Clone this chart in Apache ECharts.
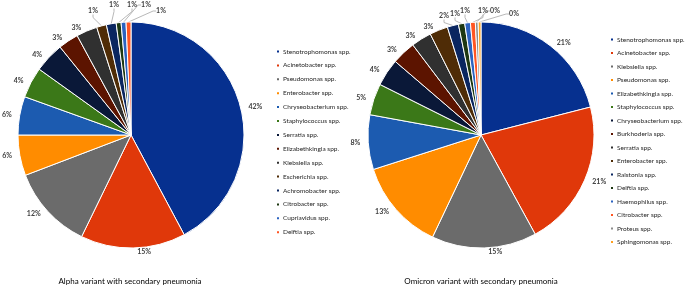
<!DOCTYPE html>
<html><head><meta charset="utf-8">
<script src="https://cdn.jsdelivr.net/npm/echarts@6/dist/echarts.min.js"></script>
<style>html,body{margin:0;padding:0;background:#fff}#c{width:687px;height:289px}</style>
</head><body><div id="c"></div>
<script>
const alphaNames = ['Stenotrophomonas spp.','Acinetobacter spp.','Pseudomonas spp.','Enterobacter spp.','Chryseobacterium spp.','Staphylococcus spp.','Serratia spp.','Elizabethkingia spp.','Klebsiella spp.','Escherichia spp.','Achromobacter spp.','Citrobacter spp.','Cupriavidus spp.','Delftia spp.'];
const alphaValues = [42.2, 15.0, 12.0, 5.8, 5.5, 4.4, 4.3, 2.9, 3.0, 1.4, 1.4, 0.7, 0.7, 0.7];
const omicronNames = ['Stenotrophomonas spp.','Acinetobacter spp.','Klebsiella spp.','Pseudomonas spp.','Elizabethkingia spp.','Staphylococcus spp.','Chryseobacterium spp.','Burkhoderia spp.','Serratia spp.','Enterobacter spp.','Ralstonia spp.','Delftia spp.','Haemophilus spp.','Citrobacter spp.','Proteus spp.','Sphingomonas spp.'];
const omicronValues = [21.0, 21.0, 15.0, 13.0, 7.8, 4.5, 3.9, 3.4, 2.9, 2.6, 1.6, 0.9, 0.8, 0.7, 0.4, 0.4];
const palette = ['#06308F','#E0380A','#6B6B6B','#FF8C00','#1C5BB0','#3B7818','#0A1838','#5C1400','#303030','#4F2C06','#0A2660','#1E3812','#2C63C0','#FF5522','#8C8C8C','#FFA020'];
const titles = ['Alpha variant with secondary pneumonia','Omicron variant with secondary pneumonia'];

const FONT = 'Lato';
const CY = 135, R = 113;
const centers = [131, 481];
// label spread for the thin slices at the top (x offset from pie centre, y)
const tailSpread = [
  {first:9, xs:[-38,-17,1,15,30], ys:[11,5,5,5,11]},
  {first:10, xs:[-37,-26,-16,2,14,33], ys:[16,14,11,11,11,14]}
];
function mkData(names, values){
  return names.map((n,i)=>({name:n, value:values[i], itemStyle:{color:palette[i]},
    labelLine:{show: values[i] < 2}}));
}
function mkLegend(names, left, top, gap){
  return {orient:'vertical', left:left, top:top, itemWidth:4, itemHeight:4, itemGap:gap,
    icon:'rect', selectedMode:false,
    textStyle:{fontSize:6.5, color:'#1f1f1f', fontFamily:FONT, padding:[0,0,0,-2]},
    data:names.map((n,i)=>({name:n, itemStyle:{color:palette[i]}}))};
}
function mkSeries(names, values, si){
  return {type:'pie', center:[centers[si],CY], radius:[0,R], startAngle:90, clockwise:true,
    avoidLabelOverlap:false,
    data:mkData(names, values),
    itemStyle:{borderColor:'#fff', borderWidth:1},
    label:{show:true, position:'outside', formatter:p=>Math.round(p.percent)+'%',
      fontSize:7, fontWeight:'bold', color:'#404040', fontFamily:FONT, distanceToLabelLine:1},
    labelLine:{length:4, length2:3, lineStyle:{color:'#a6a6a6', width:0.8}},
    labelLayout:function(p){
      const t = tailSpread[si];
      const k = p.dataIndex - t.first;
      if (k >= 0 && k < t.xs.length) {
        return {x: centers[si] + t.xs[k], y: t.ys[k], align:'center', verticalAlign:'middle'};
      }
      return {};
    },
    emphasis:{disabled:true}};
}
const chart = echarts.init(document.getElementById('c'));
chart.setOption({
  animation:false,
  title:[
    {text:titles[0], left:125, top:272, textAlign:'center', textStyle:{fontSize:8, fontWeight:'normal', color:'#000', fontFamily:FONT}},
    {text:titles[1], left:476, top:272, textAlign:'center', textStyle:{fontSize:8, fontWeight:'normal', color:'#000', fontFamily:FONT}}
  ],
  legend:[mkLegend(alphaNames, 270, 43, 6.9), mkLegend(omicronNames, 604, 31, 6.5)],
  series:[mkSeries(alphaNames, alphaValues, 0), mkSeries(omicronNames, omicronValues, 1)]
});
</script></body></html>
